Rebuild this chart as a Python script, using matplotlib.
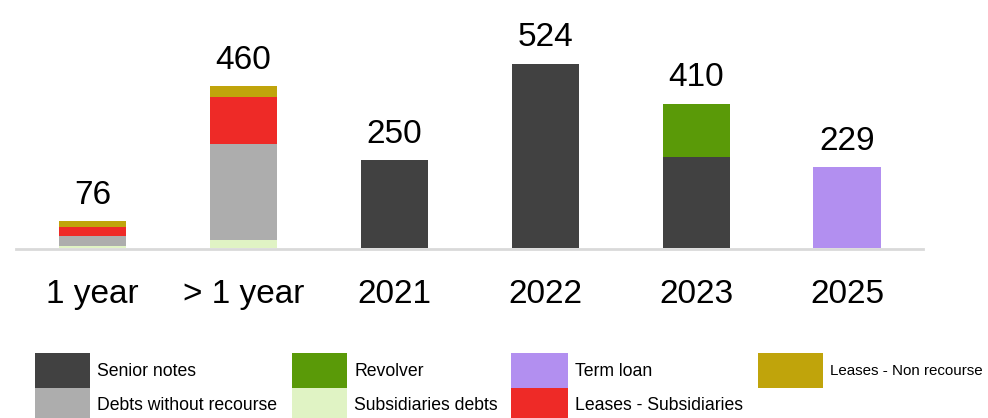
import matplotlib
matplotlib.use("Agg")
import matplotlib.pyplot as plt
from matplotlib.patches import Rectangle

categories = ["1 year", "> 1 year", "2021", "2022", "2023", "2025"]
totals = [76, 460, 250, 524, 410, 229]

# stacked series, bottom to top
series_names = [
    "Subsidiaries debts",
    "Debts without recourse",
    "Senior notes",
    "Revolver",
    "Term loan",
    "Leases - Subsidiaries",
    "Leases - Non recourse",
]
subsidiaries_debts = [6, 22, 0, 0, 0, 0]
debts_without_recourse = [29, 273, 0, 0, 0, 0]
senior_notes = [0, 0, 250, 524, 258, 0]
revolver = [0, 0, 0, 0, 152, 0]
term_loan = [0, 0, 0, 0, 0, 229]
leases_subsidiaries = [25, 135, 0, 0, 0, 0]
leases_non_recourse = [16, 30, 0, 0, 0, 0]

colors = {
    "Senior notes": "#414141",
    "Debts without recourse": "#adadad",
    "Revolver": "#5a9a08",
    "Subsidiaries debts": "#e0f3c4",
    "Term loan": "#b28ff0",
    "Leases - Subsidiaries": "#ee2a27",
    "Leases - Non recourse": "#c0a40b",
}

# legend order, row by row
legend_rows = [
    ["Senior notes", "Revolver", "Term loan", "Leases - Non recourse"],
    ["Debts without recourse", "Subsidiaries debts", "Leases - Subsidiaries"],
]

plt.rcParams["font.family"] = ["Liberation Sans", "DejaVu Sans"]

fig = plt.figure(figsize=(9.88, 4.18), dpi=100)
W, H = 988, 418
base_y = 248
ax = fig.add_axes([0, (H - base_y) / H, 1, base_y / H])

x = list(range(len(categories)))
values = [subsidiaries_debts, debts_without_recourse, senior_notes, revolver,
          term_loan, leases_subsidiaries, leases_non_recourse]
bottom = [0] * len(categories)
for name, vals in zip(series_names, values):
    ax.bar(x, vals, width=0.445, bottom=bottom, color=colors[name], linewidth=0)
    bottom = [b + v for b, v in zip(bottom, vals)]

for xi, t in zip(x, totals):
    ax.annotate(str(t), (xi, t), xytext=(0, 7.5), textcoords="offset points",
                ha="center", va="bottom", fontsize=24)

# x range: centers at px 92.5 .. 847, step ~151
step = (847 - 92.5) / 5
ax.set_xlim(-92.5 / step, (W - 92.5) / step)
ax.set_ylim(0, base_y / 0.352)
for s in ax.spines.values():
    s.set_visible(False)
ax.set_yticks([])
ax.set_xticks([])
ax.plot([(16 - 92.5) / step, (923 - 92.5) / step], [-2, -2], color="#d9d9d9",
        linewidth=2, clip_on=False)
for xi, c in zip(x, categories):
    ax.annotate(c, (xi, 0), xytext=(0, -22), textcoords="offset points",
                ha="center", va="top", fontsize=24)

# legend drawn manually (pixel layout)
col_x = [35, 292, 511, 758]
col_w = [55, 55, 57, 65]
row_top = [353, 388]
row_h = [35, 30]
text_cy = [371, 405]
for r, row in enumerate(legend_rows):
    for c, name in enumerate(row):
        x0, y0 = col_x[c], row_top[r]
        fig.add_artist(Rectangle((x0 / W, 1 - (y0 + row_h[r]) / H), col_w[c] / W,
                                 row_h[r] / H, color=colors[name],
                                 transform=fig.transFigure, linewidth=0))
        fs = 10.9 if name == "Leases - Non recourse" else 12.7
        fig.text((x0 + col_w[c] + 7) / W, 1 - text_cy[r] / H, name,
                 ha="left", va="center", fontsize=fs)

fig.savefig("out.png", dpi=100)
